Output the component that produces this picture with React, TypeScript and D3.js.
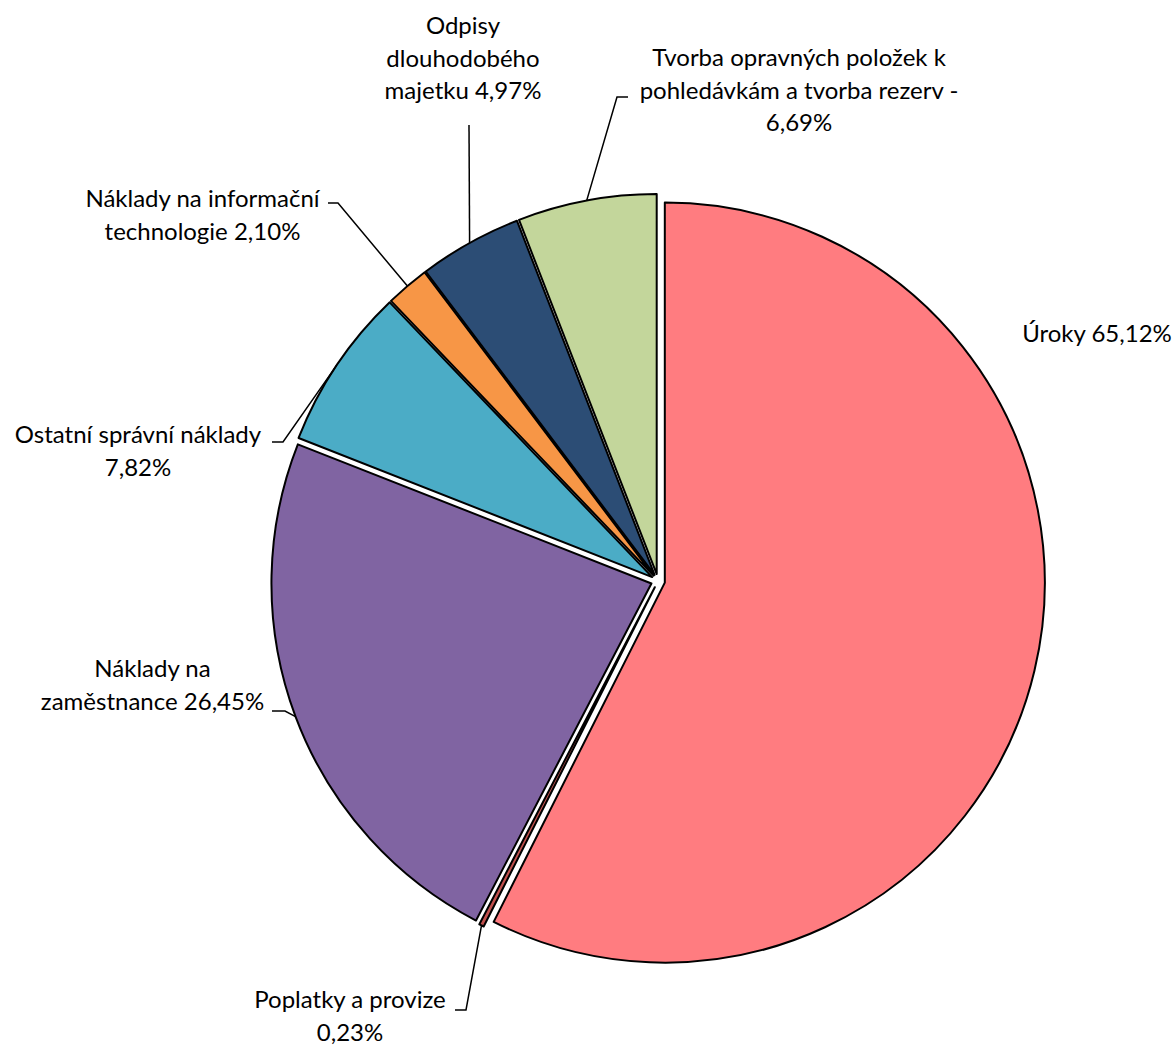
import React from 'react';
import * as d3 from 'd3';

// Struktura nákladů (%)
const categories = [
  'Úroky',
  'Poplatky a provize',
  'Náklady na zaměstnance',
  'Ostatní správní náklady',
  'Náklady na informační technologie',
  'Odpisy dlouhodobého majetku',
  'Tvorba opravných položek k pohledávkám a tvorba rezerv -',
];
const values = [65.12, 0.23, 26.45, 7.82, 2.1, 4.97, 6.69];
const colors = ['#FF7C80', '#C0504D', '#8064A2', '#4BACC6', '#F79646', '#2C4D75', '#C3D69B'];

// how many words go on each label line
const labelWordsPerLine = [[2], [3, 1], [2, 2], [3, 1], [3, 2], [1, 1, 2], [4, 5, 1]];

// label placement: centre x, first baseline, leader start near the text
const labelLayout: { x: number; y: number; leader: [number, number][] | null }[] = [
  { x: 1097, y: 341.5, leader: null },
  { x: 350, y: 1008, leader: [[455, 1010], [466, 1010]] },
  { x: 152.5, y: 677, leader: [[272, 711], [285, 711]] },
  { x: 138, y: 443, leader: [[272, 442], [283, 442]] },
  { x: 202.5, y: 207, leader: [[328, 203], [338, 203]] },
  { x: 463, y: 34, leader: [[469, 125]] },
  { x: 799, y: 66, leader: [[628, 97], [617, 97]] },
];

const width = 1174;
const height = 1046;
const cx = 658;
const cy = 581;
const radius = 380;
const explode = 7;
const lineHeight = 32.5;
const fontFamily = 'Lato, "Open Sans", sans-serif';

const fmt = (v: number) => v.toFixed(2).replace('.', ',') + '%';

const App: React.FC = () => {
  const pie = d3.pie<number>().sort(null).startAngle(0).endAngle(2 * Math.PI);
  const arcs = pie(values);
  const arcGen = d3.arc<d3.PieArcDatum<number>>().innerRadius(0).outerRadius(radius);

  return (
    <svg
      width={width}
      height={height}
      style={{ position: 'absolute', left: 0, top: 0, background: '#fff' }}
    >
      <g transform={`translate(${cx},${cy})`}>
        {arcs.map((a, i) => {
          const mid = (a.startAngle + a.endAngle) / 2;
          const dx = Math.sin(mid) * explode;
          const dy = -Math.cos(mid) * explode;
          return (
            <path
              key={categories[i]}
              d={arcGen(a) || ''}
              transform={`translate(${dx},${dy})`}
              fill={colors[i]}
              stroke="#000"
              strokeWidth={2}
              strokeLinejoin="round"
            />
          );
        })}
      </g>

      {/* leader lines */}
      {arcs.map((a, i) => {
        const lay = labelLayout[i];
        if (!lay.leader) return null;
        const mid = (a.startAngle + a.endAngle) / 2;
        const end: [number, number] = [
          cx + Math.sin(mid) * (radius + explode),
          cy - Math.cos(mid) * (radius + explode),
        ];
        const pts = [...lay.leader, end];
        return (
          <path
            key={'leader-' + i}
            d={d3.line()(pts) || ''}
            fill="none"
            stroke="#000"
            strokeWidth={1.5}
          />
        );
      })}

      {/* labels */}
      {categories.map((name, i) => {
        const words = (name + ' ' + fmt(values[i])).split(' ');
        const lines: string[] = [];
        let k = 0;
        labelWordsPerLine[i].forEach((n) => {
          lines.push(words.slice(k, k + n).join(' '));
          k += n;
        });
        const lay = labelLayout[i];
        return (
          <text
            key={'label-' + i}
            x={lay.x}
            y={lay.y}
            textAnchor="middle"
            fontFamily={fontFamily}
            fontSize={24}
            fill="#000"
          >
            {lines.map((l, j) => (
              <tspan key={j} x={lay.x} y={lay.y + j * lineHeight}>
                {l}
              </tspan>
            ))}
          </text>
        );
      })}
    </svg>
  );
};

export default App;
